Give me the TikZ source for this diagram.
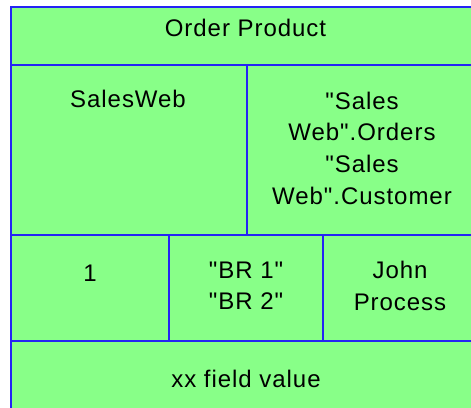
\documentclass[tikz,border=0pt]{standalone}
\usepackage{fontspec}
\setmainfont{Liberation Sans}[LetterSpace=4.0, Ligatures=TeXOff]
\usepackage{xcolor}
\definecolor{cellGreen}{HTML}{88FF88}
\definecolor{ruleBlue}{HTML}{2424F4}
\usetikzlibrary{positioning}

\begin{document}
\begin{tikzpicture}[x=1pt, y=-1pt,
    cellText/.style={inner sep=0pt, align=center, font=\fontsize{24}{31.7}\selectfont, text=black},
    gridLine/.style={line width=2pt, ruleBlue}]
    % Parameters
    \def\xL{11}     % left border
    \def\xR{482}    % right border (outside the page)
    \def\yT{7}      % top border
    \def\yB{420}    % bottom border (outside the page)

    \useasboundingbox (0,0) rectangle (471,407);
    \clip (0,0) rectangle (471,407);

    % Table body
    \fill[cellGreen] (\xL,\yT) rectangle (\xR,\yB);
    \draw[gridLine] (\xL,\yB) -- (\xL,\yT) -- (\xR,\yT);

    % Row rules
    \foreach \yr in {65, 235, 341} {
        \draw[gridLine] (\xL,\yr) -- (\xR,\yr);
    }

    % Column rules
    \draw[gridLine] (247,65) -- (247,235);
    \draw[gridLine] (169,235) -- (169,341);
    \draw[gridLine] (323,235) -- (323,341);

    % Cell texts
    \node[cellText, anchor=base] (title) at (245.5,36) {Order Product};
    \node[cellText, anchor=base] (source) at (128,107.5) {SalesWeb};
    \node[cellText, anchor=north] (tables) at (362,91.5) {"Sales\\Web".Orders\\"Sales\\Web".Customer};
    \node[cellText, anchor=base] (seq) at (90,281) {1};
    \node[cellText, anchor=north] (rules) at (246,261.5) {"BR 1"\\"BR 2"};
    \node[cellText, anchor=north] (owner) at (400,261) {John\\Process};
    \node[cellText, anchor=base] (field) at (246,387) {xx field value};
\end{tikzpicture}
\end{document}
